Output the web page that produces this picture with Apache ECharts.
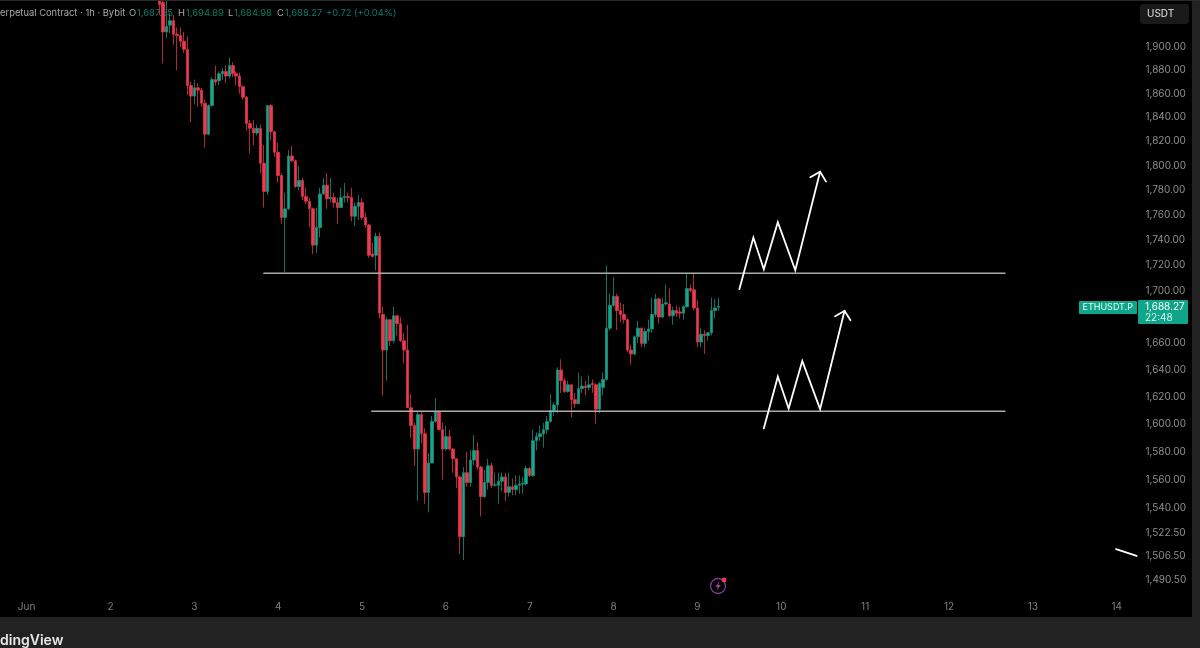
<!DOCTYPE html>
<html><head><meta charset="utf-8">
<style>html,body{margin:0;padding:0;background:#000}#c{width:1200px;height:648px}</style>
<script src="https://cdn.jsdelivr.net/npm/echarts@6/dist/echarts.min.js"></script>
</head><body><div id="c"></div>
<script>
const firstCandleHour = 38;
const dayLabels = ['Jun','2','3','4','5','6','7','8','9','10','11','12','13','14'];
const priceTicks = [1900,1880,1860,1840,1820,1800,1780,1760,1740,1720,1700,1660,1640,1620,1600,1580,1560,1540,1522.5,1506.5,1490.5];
const opens = [1950,1939,1913,1919,1923,1911,1910,1905,1898,1867,
1858,1865,1863,1852,1826,1850,1872,1871,1877,1879,
1875,1884,1877,1875,1866,1857,1835,1831,1827,1831,
1802,1779,1850,1828,1811,1792,1758,1765,1808,1804,
1783,1788,1775,1771,1765,1736,1750,1777,1784,1773,
1774,1770,1766,1774,1775,1774,1759,1767,1770,1758,
1752,1729,1728,1743,1682,1655,1678,1662,1681,1675,
1662,1655,1612,1599,1582,1607,1593,1551,1572,1602,
1609,1596,1582,1591,1582,1575,1562,1520,1565,1558,
1574,1581,1569,1548,1558,1570,1556,1556,1559,1562,
1551,1555,1553,1556,1557,1557,1568,1563,1588,1591,
1593,1596,1602,1610,1614,1640,1632,1624,1629,1618,
1615,1626,1628,1627,1630,1629,1611,1627,1633,1671.5,
1689,1696,1685,1682,1678,1655,1652,1665,1671.5,1660,
1669,1671,1682,1694,1680,1690,1690,1681,1685,1684,
1683,1688,1702,1701,1687,1661,1667,1666,1668,1685,
1687.55];
const closes = [1937,1913,1918,1923,1911,1910,1905,1898,1867,1858,
1865,1863,1852,1826,1850,1872,1870,1877,1879,1875,
1884,1877,1875,1866,1857,1835,1831,1827,1831,1802,
1779,1850,1828,1811,1792,1758,1765,1808,1804,1783,
1788,1775,1771,1765,1736,1750,1777,1784,1773,1774,
1770,1766,1774,1775,1774,1759,1767,1770,1758,1752,
1728,1727,1743,1683,1655,1678,1662,1681,1675,1662,
1655,1612,1599,1582,1607,1593,1551,1572,1602,1609,
1596,1582,1591,1582,1575,1562,1520,1565,1558,1574,
1581,1569,1548,1558,1570,1556,1556.5,1559,1562,1551,
1555,1553,1556,1557,1557.5,1568,1563,1588,1591,1593,
1596,1602,1610,1614,1640,1632,1624,1629,1618,1615,
1626,1628,1627,1629,1629,1611,1630,1633,1671.5,1689,
1696,1685,1682,1678,1655,1652,1665,1671.5,1660,1669,
1671,1682,1694,1680,1690,1691,1681,1685,1683,1683,
1688,1702,1700.5,1687,1661,1667,1666,1668,1685,1687,
1688.27];
const lows = [1928,1886,1908,1912,1902,1880,1900,1895,1859,1836,
1851,1849,1849,1815,1825,1849,1867,1867,1872,1869,
1873,1874,1867,1860,1855,1829,1810,1817,1825,1794,
1766,1776,1821,1807,1786,1753,1715,1764,1803,1782,
1780,1772,1769,1750,1729,1730,1742,1776,1765,1770,
1766,1753,1766,1770,1770,1755,1751,1756,1756,1750,
1726,1726,1716,1679,1621,1632,1658,1660,1666,1661,
1645,1612,1590,1570,1545,1586,1543,1537,1572,1601,
1596,1560,1581,1581,1565,1554,1508,1504,1555,1555,
1570,1567,1534,1547,1553,1554,1555,1543,1552,1545,
1548,1549,1549,1550,1550,1556,1562,1562,1581,1588,
1583,1593,1601,1606,1608,1623,1623,1623,1605,1612,
1615,1623,1621,1625,1623,1600,1608,1621,1632,1670,
1688,1670,1676,1675,1653,1644,1651,1660,1657,1657,
1662,1668,1680,1675,1679,1689,1680,1674,1680,1679,
1678,1687,1699,1685,1657,1657,1652,1662,1666,1679,
1684.98];
const highs = [1955,1946,1941,1930,1928,1917,1917,1913,1909,1870,
1872,1869,1865,1855,1851,1874,1884,1879,1882,1884,
1891,1887,1879,1878,1867,1858,1838,1838,1834,1834,
1817,1850,1851,1829,1819,1794,1778,1813,1816,1805,
1800,1790,1782,1774,1766,1766,1782,1790,1794,1790,
1778,1774,1782,1786,1778,1782,1770,1776,1774,1762,
1753,1738,1746,1746,1688,1680,1678,1688,1681,1680,
1668,1674,1622,1601,1610,1610,1597,1579,1606,1619,
1610,1601,1599,1596,1583,1575,1563,1569,1580,1581,
1592,1587,1570,1567,1575,1572,1565,1565,1565,1565,
1565,1561,1563,1563,1562,1570,1569,1596,1594,1599,
1601,1606,1622,1616,1642,1648,1634,1632,1629,1623,
1638,1635,1632,1636,1633,1630,1631,1638,1720,1698,
1711,1698,1691,1690,1679,1659,1666,1677,1672,1672,
1678,1695,1698,1695,1695,1705,1702,1688,1689,1688,
1689,1714,1705,1714,1693,1672,1670,1668.5,1695,1694,
1694.89];
// drawn levels and arrows: [hours since Jun 1 00:00, price]
const upperLevel = [[67.9,1714],[280,1714]];
const lowerLevel = [[98.8,1609.5],[280,1609.5]];
const upperPath = [[204,1701.5],[208,1742],[211,1717],[215,1754.3],[220,1716.3],[227.1,1795]];
const upperHead = [[224.3,1790.5],[227.1,1795],[228.8,1787]];
const lowerPath = [[211,1597],[215,1635],[218.1,1611.5],[222,1646.8],[227.1,1611],[234.1,1684.8]];
const lowerHead = [[231.4,1680.7],[234.1,1684.8],[235.8,1677.6]];
const strayStroke = [[311.8,1511.4],[317.7,1506.8]];

const leadHours = 7, totalBands = 326, bandW = 3.494;
const categories = Array.from({length: totalBands}, (_, i) => i - leadHours);
const candleData = categories.map(h => {
  const k = h - firstCandleHour;
  return k >= 0 && k < opens.length ? [opens[k], closes[k], lows[k], highs[k]] : ['-','-','-','-'];
});
const lineSeries = (data, color, width) => ({type:'line', xAxisIndex:1, yAxisIndex:0, data, symbol:'none', silent:true, z:5,
  lineStyle:{color, width, cap:'round', join:'miter'}, clip:true});
const FONT = 'Inter, Roboto, sans-serif';
const txt = (x,y,text,fill,size,extra) => ({type:'text', x, y, style:Object.assign({text, fill, font:`${size}px ${FONT}`, textVerticalAlign:'middle'}, extra||{}), silent:true});
const GREEN='#0b7b69', TAG='#0fa58a', HEAD='#a9a9a9', HS=9.4;

const chart = echarts.init(document.getElementById('c'), null, {renderer:'canvas', width:1200, height:648});
chart.setOption({
  animation:false,
  backgroundColor:'#000',
  grid:{left:0.4, top:2, width:totalBands*bandW, height:594, containLabel:false},
  xAxis:[{type:'category', data:categories, boundaryGap:true, axisLine:{show:false}, axisTick:{show:false}, splitLine:{show:false},
      axisLabel:{color:'#7f7f7f', fontFamily:FONT, fontSize:10, margin:6,
        interval:(i)=> (i-leadHours)%24===0,
        formatter:(v)=> dayLabels[(+v)/24] ?? ''}},
    {type:'value', min:-leadHours-0.5, max:totalBands-leadHours-0.5, show:false}],
  yAxis:[{type:'log', logBase:10, min:1479.5, max:1939.4, position:'right', axisLine:{show:false}, axisTick:{show:false}, splitLine:{show:false},
    axisLabel:{customValues:priceTicks, color:'#8f8f8f', fontFamily:FONT, fontSize:10, margin:6,
      formatter:(v)=> (+v).toLocaleString('en-US',{minimumFractionDigits:2,maximumFractionDigits:2})}}],
  series:[
    {type:'candlestick', xAxisIndex:0, yAxisIndex:0, data:candleData, barWidth:3, large:false, silent:true, clip:true,
      itemStyle:{color:'#1aa58a', color0:'#f0394f', borderColor:'#148f78', borderColor0:'#dc3347', borderWidth:0.8}},
    lineSeries(upperLevel,'#ababab',1.5),
    lineSeries(lowerLevel,'#ababab',1.5),
    lineSeries(upperPath,'#ffffff',1.8),
    lineSeries(upperHead,'#ffffff',1.8),
    lineSeries(lowerPath,'#ffffff',1.8),
    lineSeries(lowerHead,'#ffffff',1.8),
    lineSeries(strayStroke,'#ffffff',1.8)
  ],
  graphic:{elements:[
    txt(0,13.5,'erpetual Contract · 1h · Bybit',HEAD,HS),
    txt(129,13.5,'O',HEAD,HS), txt(137,13.5,'1,687.55',GREEN,HS),
    txt(178,13.5,'H',HEAD,HS), txt(186,13.5,'1,694.89',GREEN,HS),
    txt(228,13.5,'L',HEAD,HS), txt(234,13.5,'1,684.98',GREEN,HS),
    txt(277,13.5,'C',HEAD,HS), txt(285,13.5,'1,688.27',GREEN,HS),
    txt(326,13.5,'+0.72 (+0.04%)',GREEN,HS),
    {type:'rect', z:50, shape:{x:0,y:617,width:1200,height:31}, style:{fill:'#222'}, silent:true},
    {type:'rect', z:50, shape:{x:1192,y:0,width:8,height:648}, style:{fill:'#222'}, silent:true},
    {type:'rect', z:50, shape:{x:0,y:0,width:1200,height:1}, style:{fill:'#2a2a2a'}, silent:true},
    Object.assign(txt(0,641,'dingView','#e8e8e8',14,{font:`600 14px ${FONT}`}),{z:51}),
    {type:'rect', z:50, shape:{x:1140,y:4,width:49,height:20,r:3}, style:{fill:'#1a1a1a'}, silent:true},
    Object.assign(txt(1147,14,'USDT','#c8c8c8',10,{font:`500 10px ${FONT}`}),{z:51}),
    {type:'rect', z:50, shape:{x:1079,y:301,width:58,height:13,r:1}, style:{fill:TAG}, silent:true},
    Object.assign(txt(1082.5,307.5,'ETHUSDT.P','#e6fff9',9),{z:51}),
    {type:'rect', z:50, shape:{x:1138,y:300,width:50,height:24,r:1}, style:{fill:TAG}, silent:true},
    Object.assign(txt(1145,307,'1,688.27','#ffffff',10),{z:51}),
    Object.assign(txt(1145,318,'22:48','#d8f5ee',10),{z:51}),
    {type:'circle', z:50, shape:{cx:718,cy:586,r:7.5}, style:{fill:'none', stroke:'#7d3a92', lineWidth:1.3}, silent:true},
    {type:'polygon', z:50, shape:{points:[[719.5,581],[715.5,587],[717.8,587],[716.5,591],[720.8,585],[718.4,585]]}, style:{fill:'#96489f'}, silent:true},
    {type:'circle', z:51, shape:{cx:724,cy:580,r:2.4}, style:{fill:'#f0394f'}, silent:true}
  ]}
});
</script></body></html>
